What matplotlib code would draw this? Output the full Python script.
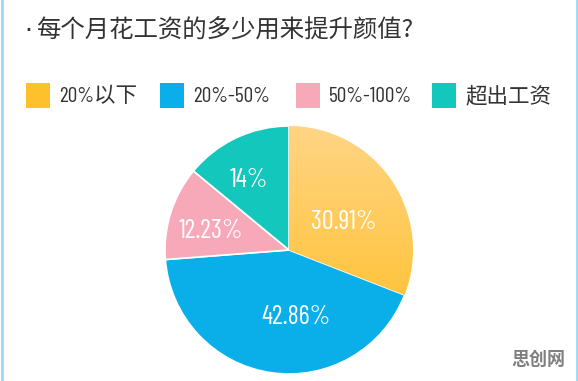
import numpy as np
import matplotlib
matplotlib.use('Agg')
import matplotlib.pyplot as plt
from matplotlib.patches import Rectangle
from matplotlib.colors import LinearSegmentedColormap

TITLE = '每个月花工资的多少用来提升颜值?'
categories = ['20%以下', '20%-50%', '50%-100%', '超出工资']
values = [30.91, 42.86, 12.23, 14]
pct_labels = ['30.91%', '42.86%', '12.23%', '14%']
colors = ['#FFC12B', '#0AAEE8', '#F8A9B9', '#13C7BC']

NARROW = ['Barlow Condensed', 'Noto Sans CJK SC', 'DejaVu Sans']
CJK = ['Noto Sans CJK SC', 'DejaVu Sans']

W, H = 578, 381
fig = plt.figure(figsize=(W / 100, H / 100), dpi=100)
fig.patch.set_facecolor('white')

def px(x, y):
    # pixel coords from top-left -> figure fraction
    return x / W, 1 - y / H

# title (bullet + question)
fig.text(*px(24, 31), '·', fontsize=18, color='#333333', family='DejaVu Sans',
         va='center', ha='left')
fig.text(*px(36, 30), TITLE, fontsize=17.6, color='#333333',
         family=CJK, va='center', ha='left')

# legend drawn by hand
leg_sq = [26, 160, 296, 432]
for i, (lab, c) in enumerate(zip(categories, colors)):
    x0 = leg_sq[i]
    fx, fy = px(x0, 108)
    fig.patches.append(Rectangle((fx, fy), 24 / W, 25 / H, transform=fig.transFigure,
                                 facecolor=c, edgecolor='none'))
    fig.text(*px(x0 + 33, 96), lab, fontsize=15.5, color='#333333',
             family=NARROW, va='center', ha='left')

# pie
ax = fig.add_axes([165 / W, 7 / H, 248 / W, 248 / H])
wedges, _ = ax.pie(values, colors=colors, startangle=90, counterclock=False,
                   wedgeprops=dict(edgecolor='white', linewidth=1.2))

# soft vertical gradient on the orange slice
grad = LinearSegmentedColormap.from_list('og', ['#FFBC1C', '#FFD585'])
img = ax.imshow(np.linspace(0, 1, 256).reshape(-1, 1), cmap=grad,
                extent=(-1, 1, -1, 1), origin='lower', aspect='auto', zorder=1.5)
img.set_clip_path(wedges[0])
ax.set_xlim(-1.0, 1.0)
ax.set_ylim(-1.0, 1.0)
ax.set_aspect('equal')

# label placement: radius and angle nudge per slice
label_r = [0.50, 0.54, 0.65, 0.65]
label_shift = [-7, 14, 4, 5]
for w, lab, r, sh in zip(wedges, pct_labels, label_r, label_shift):
    ang = np.deg2rad((w.theta1 + w.theta2) / 2 + sh)
    ax.text(r * np.cos(ang), r * np.sin(ang), lab, color='white', fontsize=19,
            family=NARROW, ha='center', va='center', zorder=3)

# watermark
fig.text(*px(538, 359), '思创网', fontsize=13, color='#808080', fontweight='bold',
         family=CJK, ha='center', va='center')

# thin light-blue frame on the sides
fig.add_artist(plt.Line2D([1.5 / W, 1.5 / W], [0, 1], color='#9fd6ef', lw=2,
                          transform=fig.transFigure))
fig.add_artist(plt.Line2D([1 - 1.5 / W, 1 - 1.5 / W], [0, 1], color='#9fd6ef', lw=2,
                          transform=fig.transFigure))

fig.savefig('out.png', dpi=100)
